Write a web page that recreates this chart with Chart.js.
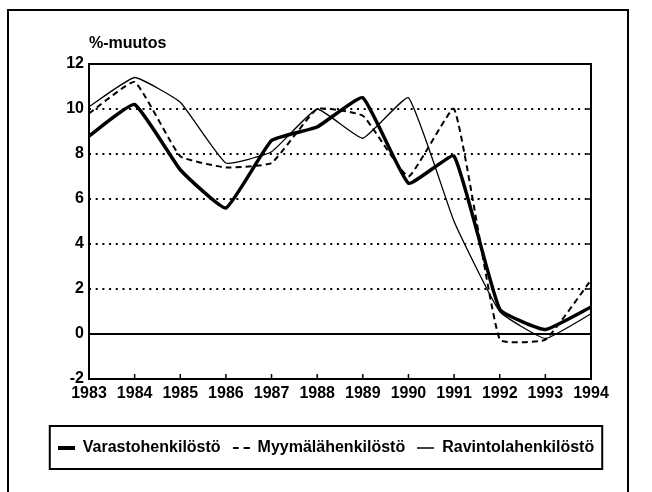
<!DOCTYPE html>
<html>
<head>
<meta charset="utf-8">
<script src="https://cdn.jsdelivr.net/npm/chart.js@4"></script>
<style>
  body { margin: 0; background: #fff; }
</style>
</head>
<body>
<canvas id="chart" width="652" height="492"></canvas>
<script>
// data
const years = ['1983', '1984', '1985', '1986', '1987', '1988', '1989', '1990', '1991', '1992', '1993', '1994'];
const varasto = [8.8, 10.2, 7.3, 5.6, 8.6, 9.2, 10.5, 6.7, 7.9, 1.1, 0.2, 1.2];
const myymala = [9.8, 11.2, 7.9, 7.4, 7.6, 10.0, 9.7, 7.0, 10.0, -0.25, -0.25, 2.4];
const ravinto = [10.1, 11.4, 10.3, 7.6, 8.1, 10.0, 8.7, 10.5, 5.0, 1.0, -0.2, 0.9];
const yTicks = [-2, 0, 2, 4, 6, 8, 10, 12];

const FONT = '"Liberation Sans", Arial, Helvetica, sans-serif';
Chart.defaults.color = '#000';
Chart.defaults.font.family = FONT;
Chart.defaults.font.weight = 'bold';
Chart.defaults.font.size = 16;

// little line samples for the legend
function sample(lw, dash) {
    const c = document.createElement('canvas');
    c.width = 17;
    c.height = 6;
    const g = c.getContext('2d');
    g.strokeStyle = '#000';
    g.lineWidth = lw;
    g.setLineDash(dash);
    g.beginPath();
    g.moveTo(0, 3);
    g.lineTo(17, 3);
    g.stroke();
    return c;
}

// zero line, border, inner ticks, title and legend frame
const decor = {
    id: 'decor',
    beforeDatasetsDraw(chart) {
        const { ctx, chartArea: a, scales: { y } } = chart;
        const y0 = y.getPixelForValue(0);
        ctx.save();
        ctx.strokeStyle = '#000';
        ctx.lineWidth = 2;
        ctx.beginPath();
        ctx.moveTo(a.left, y0);
        ctx.lineTo(a.right, y0);
        ctx.stroke();
        ctx.restore();
    },
    afterDraw(chart) {
        const { ctx, chartArea: a, scales: { x, y }, legend } = chart;
        ctx.save();
        ctx.strokeStyle = '#000';
        ctx.lineWidth = 2;
        ctx.strokeRect(a.left, a.top, a.right - a.left, a.bottom - a.top);

        // small ticks inside the plot
        ctx.lineWidth = 1.5;
        ctx.beginPath();
        years.forEach((yr, i) => {
            const px = x.getPixelForValue(i);
            ctx.moveTo(px, a.bottom);
            ctx.lineTo(px, a.bottom - 5);
        });
        yTicks.forEach(v => {
            const py = y.getPixelForValue(v);
            ctx.moveTo(a.right, py);
            ctx.lineTo(a.right - 4, py);
        });
        ctx.stroke();

        // axis title
        ctx.fillStyle = '#000';
        ctx.font = 'bold 16px ' + FONT;
        ctx.textBaseline = 'middle';
        ctx.textAlign = 'left';
        ctx.fillText('%-muutos', a.left, a.top - 20);

        // legend box
        const boxes = legend.legendHitBoxes;
        if (boxes.length) {
            const l = Math.min(...boxes.map(b => b.left)) - 8;
            const r = Math.max(...boxes.map(b => b.left + b.width)) + 8;
            const cy = boxes[0].top + boxes[0].height / 2;
            ctx.lineWidth = 2;
            ctx.strokeRect(l, cy - 22, r - l, 43);
        }

        // outer frame
        ctx.strokeRect(8, 10, 620, 500);
        ctx.restore();
    }
};

new Chart(document.getElementById('chart'), {
    type: 'line',
    data: {
        labels: years,
        datasets: [
            {
                label: 'Varastohenkilöstö',
                data: varasto,
                borderColor: '#000',
                borderWidth: 3.5,
                pointRadius: 0,
                pointStyle: sample(4, []),
                tension: 0.12
            },
            {
                label: 'Myymälähenkilöstö',
                data: myymala,
                borderColor: '#000',
                borderWidth: 2,
                borderDash: [6, 4],
                pointRadius: 0,
                pointStyle: sample(2, [6, 5]),
                tension: 0.12
            },
            {
                label: 'Ravintolahenkilöstö',
                data: ravinto,
                borderColor: '#000',
                borderWidth: 1.3,
                pointRadius: 0,
                pointStyle: sample(1.5, []),
                tension: 0.12
            }
        ]
    },
    options: {
        responsive: false,
        animation: false,
        devicePixelRatio: 1,
        layout: {
            padding: { top: 64, right: 0, bottom: 26, left: 0 }
        },
        plugins: {
            legend: {
                position: 'bottom',
                labels: {
                    usePointStyle: true,
                    pointStyleWidth: 17,
                    padding: 12,
                    color: '#000',
                    font: { size: 16, weight: 'bold' }
                }
            },
            tooltip: { enabled: false }
        },
        scales: {
            x: {
                offset: false,
                grid: { display: false, drawTicks: false },
                border: { display: false },
                ticks: { padding: 5, maxRotation: 0, autoSkip: false },
                afterFit: s => { s.height = 49; }
            },
            y: {
                min: -2,
                max: 12,
                afterBuildTicks: s => { s.ticks = yTicks.map(v => ({ value: v })); },
                ticks: { padding: 5 },
                grid: {
                    drawTicks: false,
                    lineWidth: 2,
                    color: c => [0, 12, -2].includes(c.tick.value) ? 'rgba(0,0,0,0)' : '#000'
                },
                border: { display: false, dash: [2, 4.7] },
                afterFit: s => { s.width = 89; }
            },
            // empty axis that only keeps the right margin
            yRight: {
                position: 'right',
                min: -2,
                max: 12,
                ticks: { display: false },
                grid: { display: false },
                border: { display: false },
                afterFit: s => { s.width = 61; }
            }
        }
    },
    plugins: [decor]
});
</script>
</body>
</html>
